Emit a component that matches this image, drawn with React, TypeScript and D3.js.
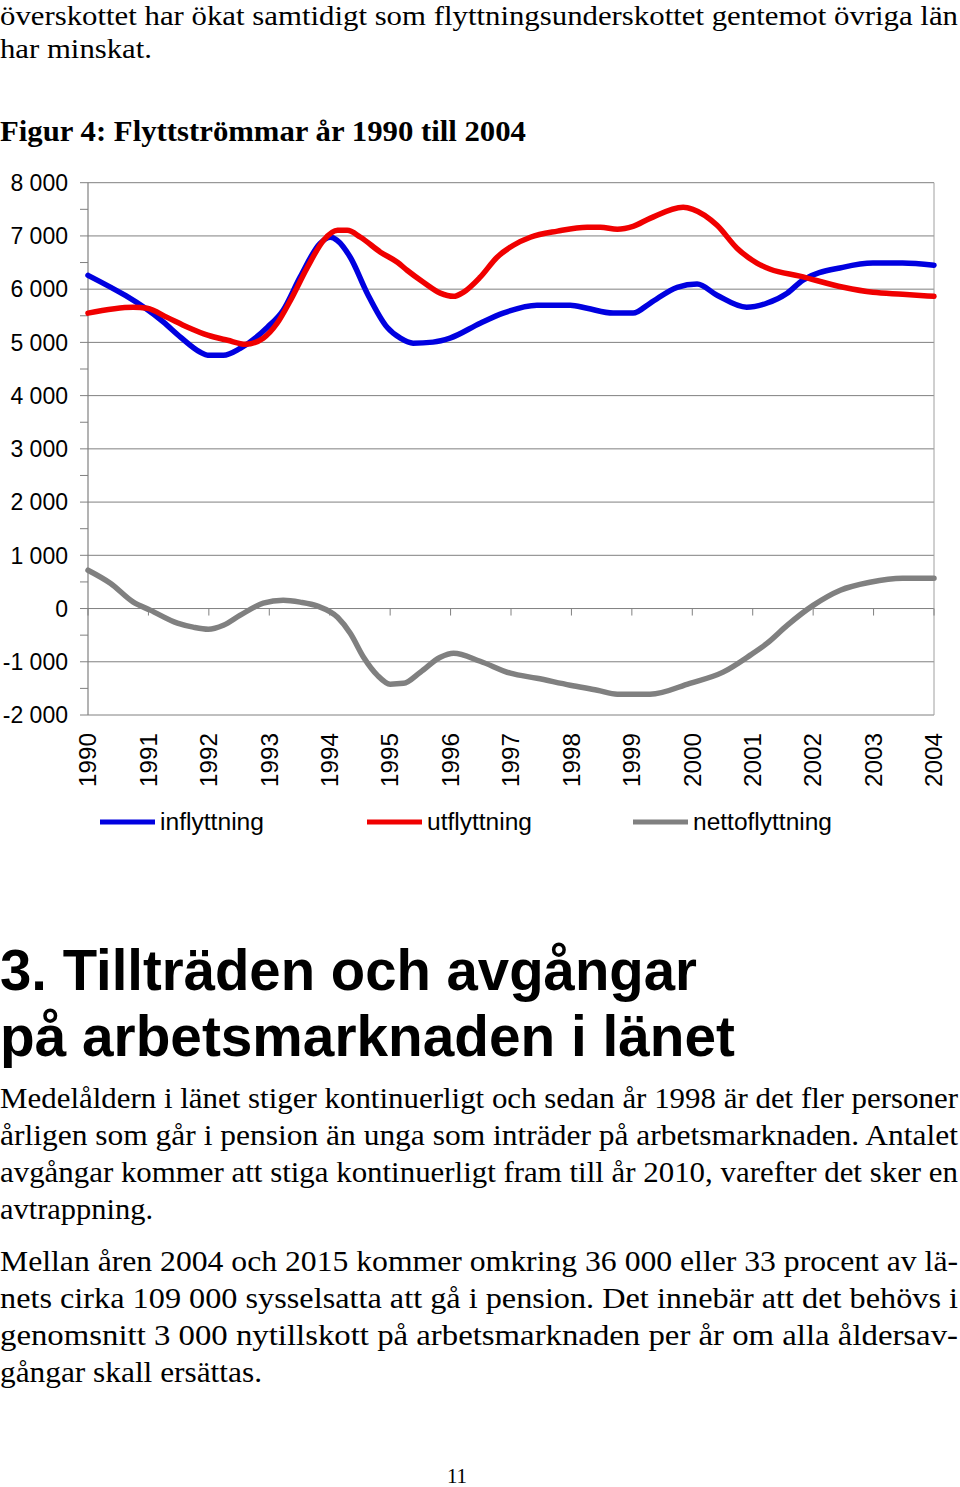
import React from "react";
import * as d3 from "d3";

const yTicks = [8000, 7000, 6000, 5000, 4000, 3000, 2000, 1000, 0, -1000, -2000];
const yMinorTicks = [7500, 6500, 5500, 4500, 3500, 2500, 1500, 500, -500, -1500];
const yearLabels = ["1990", "1991", "1992", "1993", "1994", "1995", "1996", "1997", "1998", "1999", "2000", "2001", "2002", "2003", "2004"];

const inflyttningYear = [1990.0, 1991.25, 1991.53, 1991.86, 1991.98, 1992.24, 1992.52, 1992.97, 1993.23, 1993.51, 1993.84, 1994.01, 1994.12, 1994.34, 1994.62, 1994.95, 1995.17, 1995.38, 1995.71, 1995.99, 1996.49, 1996.87, 1997.43, 1997.98, 1998.26, 1998.69, 1999.02, 1999.3, 1999.75, 2000.08, 2000.41, 2000.9, 2001.23, 2001.57, 2001.83, 2002.49, 2002.99, 2003.48, 2004.0];
const inflyttningValue = [6260, 5380, 5100, 4815, 4760, 4760, 4890, 5285, 5605, 6225, 6860, 6975, 6920, 6600, 5925, 5285, 5080, 4985, 5005, 5080, 5360, 5550, 5700, 5700, 5640, 5550, 5550, 5735, 6035, 6095, 5885, 5660, 5735, 5925, 6170, 6410, 6490, 6490, 6450];

const utflyttningYear = [1990.0, 1990.75, 1990.98, 1991.31, 1991.65, 1991.98, 1992.31, 1992.61, 1992.9, 1993.13, 1993.35, 1993.63, 1993.9, 1994.13, 1994.29, 1994.51, 1994.84, 1995.12, 1995.28, 1995.55, 1995.83, 1996.05, 1996.21, 1996.49, 1996.77, 1997.04, 1997.32, 1997.77, 1998.26, 1998.48, 1998.76, 1999.02, 1999.3, 1999.85, 2000.01, 2000.41, 2000.74, 2001.07, 2001.29, 2001.78, 2002.5, 2002.99, 2003.48, 2004.0];
const utflyttningValue = [5550, 5660, 5640, 5470, 5285, 5135, 5040, 4965, 5080, 5360, 5790, 6410, 6920, 7105, 7105, 6975, 6695, 6505, 6355, 6130, 5925, 5865, 5940, 6225, 6600, 6825, 6975, 7090, 7165, 7165, 7125, 7180, 7330, 7540, 7500, 7200, 6770, 6490, 6375, 6245, 6035, 5940, 5905, 5865];

const nettoYear = [1990.0, 1990.37, 1990.75, 1991.03, 1991.48, 1991.74, 1991.99, 1992.24, 1992.52, 1992.9, 1993.23, 1993.51, 1993.8, 1994.13, 1994.34, 1994.56, 1994.79, 1995.0, 1995.22, 1995.5, 1995.83, 1996.05, 1996.49, 1996.99, 1997.43, 1997.98, 1998.43, 1998.76, 1999.3, 1999.96, 2000.51, 2000.96, 2001.24, 2001.57, 2002.0, 2002.45, 2002.94, 2003.48, 2004.0];
const nettoValue = [720, 475, 120, -30, -275, -350, -390, -315, -125, 100, 155, 120, 45, -165, -465, -915, -1255, -1420, -1405, -1195, -915, -840, -990, -1215, -1310, -1440, -1535, -1610, -1610, -1405, -1195, -875, -650, -315, 60, 345, 495, 570, 570];

const seriesNames = ["inflyttning", "utflyttning", "nettoflyttning"];
const seriesColors = ["#0000e0", "#f00000", "#808080"];

const topLines = [
  { t: "överskottet har ökat samtidigt som flyttningsunderskottet gentemot övriga län", y: 25, w: 958 },
  { t: "har minskat.", y: 58, w: 152 },
];
const para1 = [
  { t: "Medelåldern i länet stiger kontinuerligt och sedan år 1998 är det fler personer", y: 1108, w: 958 },
  { t: "årligen som går i pension än unga som inträder på arbetsmarknaden. Antalet", y: 1145, w: 958 },
  { t: "avgångar kommer att stiga kontinuerligt fram till år 2010, varefter det sker en", y: 1182, w: 958 },
  { t: "avtrappning.", y: 1219, w: 153 },
];
const para2 = [
  { t: "Mellan åren 2004 och 2015 kommer omkring 36 000 eller 33 procent av lä-", y: 1271, w: 958 },
  { t: "nets cirka 109 000 sysselsatta att gå i pension. Det innebär att det behövs i", y: 1308, w: 958 },
  { t: "genomsnitt 3 000 nytillskott på arbetsmarknaden per år om alla åldersav-", y: 1345, w: 958 },
  { t: "gångar skall ersättas.", y: 1382, w: 262 },
];

const fmt = (v: number) => {
  const s = Math.abs(v).toString();
  const body = s.length > 3 ? s.slice(0, s.length - 3) + "\u00a0" + s.slice(-3) : s;
  return (v < 0 ? "-" : "") + body;
};

export default function App() {
  const x = d3.scaleLinear().domain([1990, 2004]).range([88, 934]);
  const y = d3.scaleLinear().domain([-2000, 8000]).range([715, 182.7]);
  const line = d3
    .line<[number, number]>()
    .x((d) => x(d[0]))
    .y((d) => y(d[1]))
    .curve(d3.curveMonotoneX);
  const series = [
    d3.zip(inflyttningYear, inflyttningValue) as [number, number][],
    d3.zip(utflyttningYear, utflyttningValue) as [number, number][],
    d3.zip(nettoYear, nettoValue) as [number, number][],
  ];
  const gridColor = "#808080";
  const serif = "'Liberation Serif', 'Times New Roman', serif";
  const sans = "'Liberation Sans', Arial, sans-serif";
  const legendX = [100, 367, 633];
  const legendW = [104, 105, 139];

  return (
    <svg
      width={960}
      height={1487}
      style={{ position: "absolute", left: 0, top: 0, background: "#fff" }}
    >
      <rect x={0} y={0} width={960} height={1487} fill="#fff" />
      {topLines.map((l, i) => (
        <text key={"t" + i} x={0} y={l.y} fontFamily={serif} fontSize={28} textLength={l.w} lengthAdjust="spacingAndGlyphs">
          {l.t}
        </text>
      ))}
      <text x={0} y={141} fontFamily={serif} fontWeight="bold" fontSize={30} textLength={526} lengthAdjust="spacingAndGlyphs">
        Figur 4: Flyttströmmar år 1990 till 2004
      </text>

      {yTicks.map((v) => (
        <line key={"g" + v} x1={80} x2={934} y1={y(v)} y2={y(v)} stroke={gridColor} strokeWidth={1} />
      ))}
      {yMinorTicks.map((v) => (
        <line key={"m" + v} x1={80} x2={88} y1={y(v)} y2={y(v)} stroke={gridColor} strokeWidth={1} />
      ))}
      <line x1={88} x2={88} y1={y(8000)} y2={y(-2000)} stroke={gridColor} strokeWidth={1.2} />
      <line x1={934} x2={934} y1={y(8000)} y2={y(-2000)} stroke="#a0a0a0" strokeWidth={1} />
      {yearLabels.map((lab, i) => (
        <line key={"xt" + i} x1={x(1990 + i)} x2={x(1990 + i)} y1={y(0)} y2={y(0) + 7} stroke={gridColor} strokeWidth={1} />
      ))}
      {yTicks.map((v) => (
        <text key={"yl" + v} x={68} y={y(v)} dy="0.36em" textAnchor="end" fontFamily={sans} fontSize={23}>
          {fmt(v)}
        </text>
      ))}
      {yearLabels.map((lab, i) => (
        <text
          key={"xl" + i}
          transform={`translate(${x(1990 + i)},733) rotate(-90)`}
          dy="0.36em"
          textAnchor="end"
          fontFamily={sans}
          fontSize={23}
          textLength={54}
          lengthAdjust="spacingAndGlyphs"
        >
          {lab}
        </text>
      ))}

      {series.map((s, i) => (
        <path key={"s" + i} d={line(s) || ""} fill="none" stroke={seriesColors[i]} strokeWidth={5.5} strokeLinejoin="round" strokeLinecap="round" />
      ))}

      {seriesNames.map((n, i) => (
        <g key={"lg" + i}>
          <line x1={legendX[i]} x2={legendX[i] + 55} y1={822} y2={822} stroke={seriesColors[i]} strokeWidth={5} />
          <text x={legendX[i] + 60} y={830} fontFamily={sans} fontSize={23} textLength={legendW[i]} lengthAdjust="spacingAndGlyphs">
            {n}
          </text>
        </g>
      ))}

      <text x={0} y={990} fontFamily={sans} fontWeight="bold" fontSize={58} textLength={697} lengthAdjust="spacingAndGlyphs">
        3. Tillträden och avgångar
      </text>
      <text x={0} y={1056} fontFamily={sans} fontWeight="bold" fontSize={58} textLength={735} lengthAdjust="spacingAndGlyphs">
        på arbetsmarknaden i länet
      </text>
      {[...para1, ...para2].map((l, i) => (
        <text key={"p" + i} x={0} y={l.y} fontFamily={serif} fontSize={30} textLength={l.w} lengthAdjust="spacingAndGlyphs">
          {l.t}
        </text>
      ))}
      <text x={457} y={1483} textAnchor="middle" fontFamily={serif} fontSize={21}>
        11
      </text>
    </svg>
  );
}
